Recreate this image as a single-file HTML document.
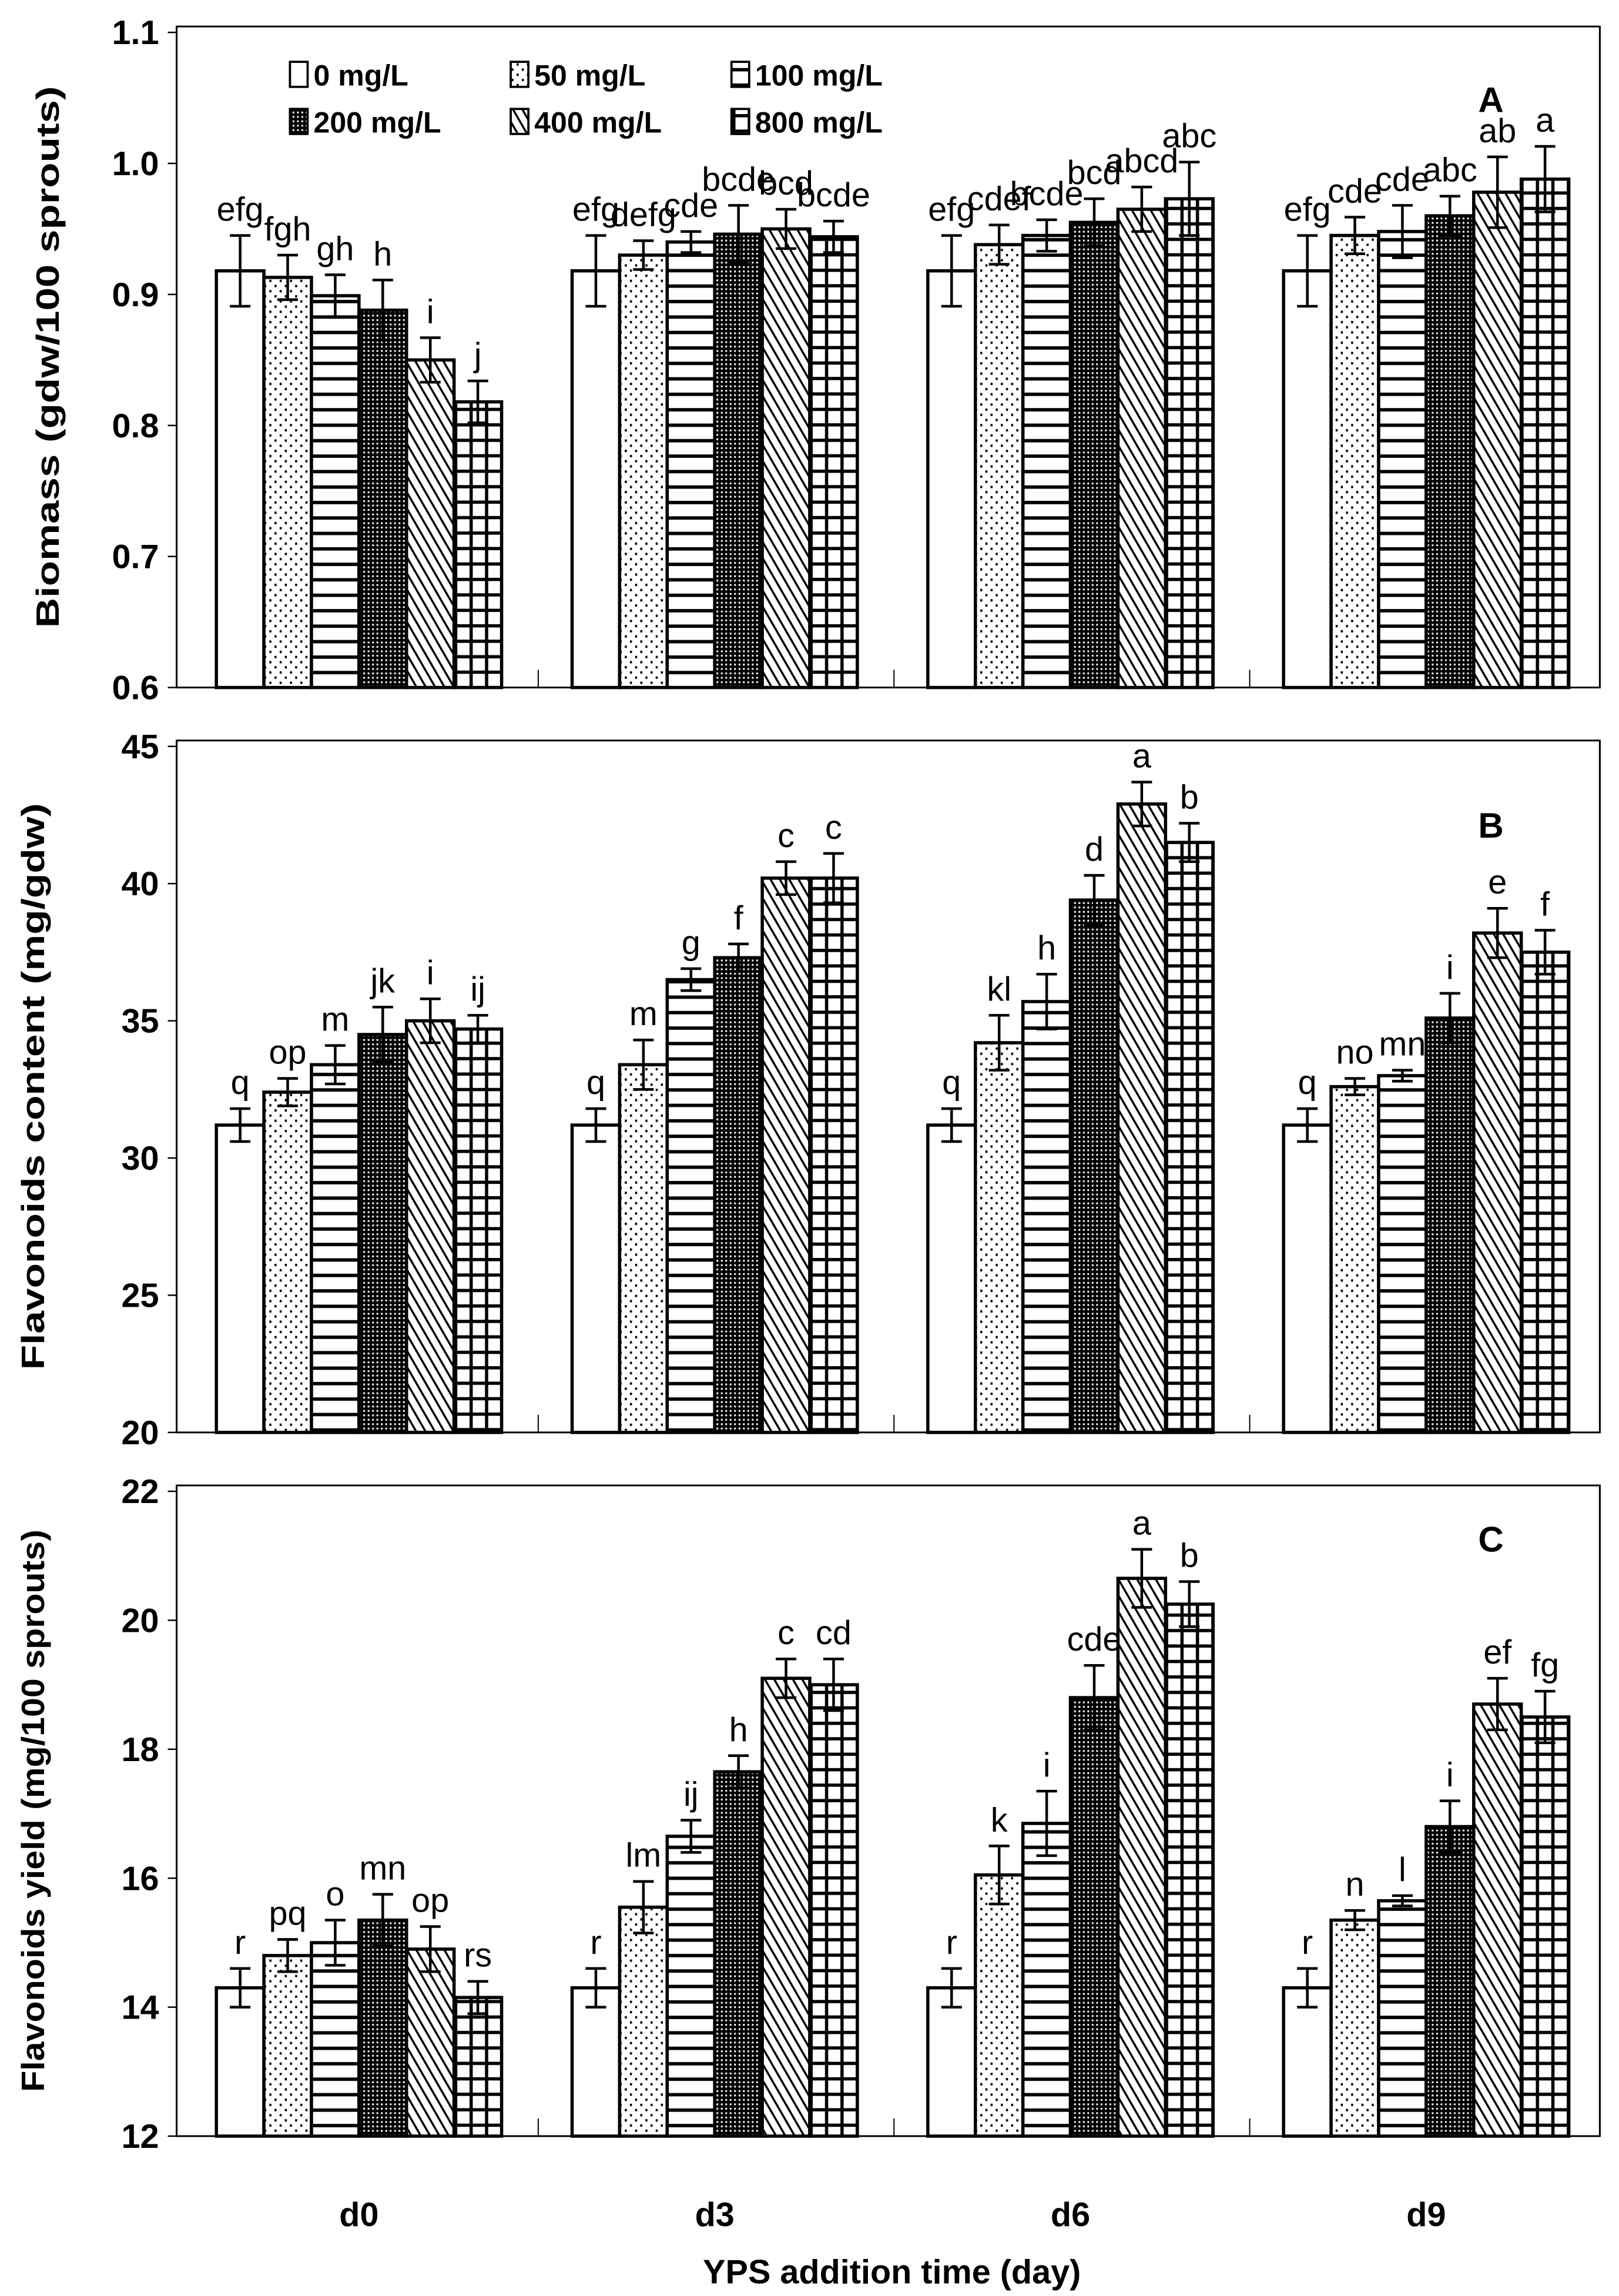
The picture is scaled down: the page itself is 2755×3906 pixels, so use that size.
<!DOCTYPE html>
<html><head><meta charset="utf-8">
<style>
html,body{margin:0;padding:0;background:#fff;}
svg{display:block;}
text{font-family:"Liberation Sans",Arial,sans-serif;fill:#000;}
</style></head>
<body>
<svg id="chart" width="2755" height="3906" viewBox="0 0 1100 1559.6" xmlns="http://www.w3.org/2000/svg">
<defs>
<pattern id="p0" patternUnits="userSpaceOnUse" width="10" height="10"><rect width="10" height="10" fill="#fff"/></pattern>
<pattern id="p1" patternUnits="userSpaceOnUse" width="7" height="7"><rect width="7" height="7" fill="#fff"/><rect x="1" y="1" width="1.4" height="1.6" fill="#000"/><rect x="4.5" y="4.5" width="1.4" height="1.6" fill="#000"/></pattern>
<pattern id="p2" patternUnits="userSpaceOnUse" width="10" height="10.5"><rect width="10" height="10.5" fill="#fff"/><rect y="4.2" width="10" height="2.3" fill="#000"/></pattern>
<pattern id="p3" patternUnits="userSpaceOnUse" width="3" height="3"><rect width="3" height="3" fill="#000"/><rect x="0.8" y="0.8" width="1.2" height="1.2" fill="#fff"/></pattern>
<pattern id="p4" patternUnits="userSpaceOnUse" width="5.5" height="5.5" patternTransform="rotate(-30)"><rect width="5.5" height="5.5" fill="#fff"/><rect x="0" y="0" width="1.4" height="5.5" fill="#000"/></pattern>
<pattern id="p5" patternUnits="userSpaceOnUse" width="10.5" height="10.5"><rect width="10.5" height="10.5" fill="#fff"/><rect x="4" width="2.2" height="10.5" fill="#000"/><rect y="4" width="10.5" height="2.2" fill="#000"/></pattern>
</defs>
<g id="root"></g>
</svg>
<script>
const groups = ["d0","d3","d6","d9"];
const seriesNames = ["0 mg/L","50 mg/L","100 mg/L","200 mg/L","400 mg/L","800 mg/L"];

const biomassVals = [[0.918,0.913,0.899,0.888,0.850,0.818],[0.918,0.930,0.940,0.946,0.950,0.944],[0.918,0.938,0.945,0.955,0.965,0.973],[0.918,0.945,0.948,0.960,0.978,0.988]];
const biomassErr = [[0.027,0.017,0.016,0.023,0.017,0.016],[0.027,0.011,0.008,0.022,0.015,0.012],[0.027,0.015,0.012,0.018,0.017,0.028],[0.027,0.014,0.020,0.015,0.027,0.025]];
const biomassLbl = [["efg","fgh","gh","h","i","j"],["efg","defg","cde","bcde","bcd","bcde"],["efg","cdef","bcde","bcd","abcd","abc"],["efg","cde","cde","abc","ab","a"]];
const biomassTicks = [0.6,0.7,0.8,0.9,1.0,1.1];
const biomassTickLbl = ["0.6","0.7","0.8","0.9","1.0","1.1"];

const contentVals = [[31.2,32.4,33.4,34.5,35.0,34.7],[31.2,33.4,36.5,37.3,40.2,40.2],[31.2,34.2,35.7,39.4,42.9,41.5],[31.2,32.6,33.0,35.1,38.2,37.5]];
const contentErr = [[0.6,0.5,0.7,1.0,0.8,0.5],[0.6,0.9,0.4,0.5,0.6,0.9],[0.6,1.0,1.0,0.9,0.8,0.7],[0.6,0.3,0.2,0.9,0.9,0.8]];
const contentLbl = [["q","op","m","jk","i","ij"],["q","m","g","f","c","c"],["q","kl","h","d","a","b"],["q","no","mn","i","e","f"]];
const contentTicks = [20,25,30,35,40,45];
const contentTickLbl = ["20","25","30","35","40","45"];

const yieldVals = [[14.3,14.8,15.0,15.35,14.9,14.15],[14.3,15.55,16.65,17.65,19.1,19.0],[14.3,16.05,16.85,18.8,20.65,20.25],[14.3,15.35,15.65,16.8,18.7,18.5]];
const yieldErr = [[0.3,0.25,0.35,0.4,0.35,0.25],[0.3,0.4,0.25,0.25,0.3,0.4],[0.3,0.45,0.5,0.5,0.45,0.35],[0.3,0.15,0.08,0.4,0.4,0.4]];
const yieldLbl = [["r","pq","o","mn","op","rs"],["r","lm","ij","h","c","cd"],["r","k","i","cde","a","b"],["r","n","l","i","ef","fg"]];
const yieldTicks = [12,14,16,18,20,22];
const yieldTickLbl = ["12","14","16","18","20","22"];

const NS="http://www.w3.org/2000/svg";
const root=document.getElementById('root');
function mk(tag,attrs,parent){const e=document.createElementNS(NS,tag);for(const k in attrs)e.setAttribute(k,attrs[k]);(parent||root).appendChild(e);return e;}

const left=120,right=1087,barW=32.3,g0=147,gStep=241.7;
function drawPanel(p){
  const g=mk('g',{});
  
  
  const y=v=>p.bottom-(v-p.min)/(p.max-p.min)*(p.bottom-p.top);
  const frame=mk('rect',{x:left,y:p.frameTop,width:right-left,height:p.bottom-p.frameTop,fill:'none',stroke:'#000','stroke-width':1.2},g);
  
  
  p.ticks.forEach((t,i)=>{
    mk('line',{x1:left-6,x2:left,y1:y(t),y2:y(t),stroke:'#000','stroke-width':1},g);
    const tl=mk('text',{x:left-12,y:y(t)+8,'font-size':23,'font-weight':'bold','text-anchor':'end'},g);
    tl.textContent=p.tickLbl[i];
    
    
  });
  for(let k=1;k<4;k++){const xx=g0+k*gStep-23;mk('line',{x1:xx,x2:xx,y1:p.bottom,y2:p.bottom-12,stroke:'#000','stroke-width':0.8},g);}
  const at=mk('text',{transform:`translate(${p.titleX},${(p.frameTop+p.bottom)/2}) rotate(-90)`,'font-size':22,'font-weight':'bold','text-anchor':'middle',textLength:p.titleLen,lengthAdjust:'spacingAndGlyphs'},g);
  at.textContent=p.title;
  
  
  const pl=mk('text',{x:1013,y:p.letterY,'font-size':24,'font-weight':'bold','text-anchor':'middle'},g);
  pl.textContent=p.letter;
  
  
  p.vals.forEach((row,gi)=>{
    row.forEach((v,si)=>{
      const x=g0+gi*gStep+si*barW;
      const b=mk('rect',{x:x,y:y(v),width:barW,height:p.bottom-y(v),fill:`url(#p${si})`,stroke:'#000','stroke-width':2.2},g);
      
      
      const cx=x+barW/2,e=p.err[gi][si];
      const eb=mk('path',{d:`M${cx} ${y(v+e)}V${y(v-e)}M${cx-7} ${y(v+e)}H${cx+7}M${cx-7} ${y(v-e)}H${cx+7}`,stroke:'#000','stroke-width':1.8,fill:'none'},g);
      
      
      const lt=mk('text',{x:cx,y:y(v+e)-10,'font-size':23,'text-anchor':'middle'},g);
      lt.textContent=p.lbl[gi][si];
      
      
    });
  });
}
drawPanel({name:'panel-a-biomass',frameTop:18,top:22,bottom:467,min:0.6,max:1.1,ticks:biomassTicks,tickLbl:biomassTickLbl,vals:biomassVals,err:biomassErr,lbl:biomassLbl,title:'Biomass (gdw/100 sprouts)',titleX:40,titleLen:368,letter:'A',letterY:76});
drawPanel({name:'panel-b-content',frameTop:503,top:507,bottom:973,min:20,max:45,ticks:contentTicks,tickLbl:contentTickLbl,vals:contentVals,err:contentErr,lbl:contentLbl,title:'Flavonoids content (mg/gdw)',titleX:30,titleLen:385,letter:'B',letterY:569});
drawPanel({name:'panel-c-yield',frameTop:1009,top:1013,bottom:1451,min:12,max:22,ticks:yieldTicks,tickLbl:yieldTickLbl,vals:yieldVals,err:yieldErr,lbl:yieldLbl,title:'Flavonoids yield (mg/100 sprouts)',titleX:30,titleLen:382,letter:'C',letterY:1054});

groups.forEach((d,i)=>{
  const t=mk('text',{x:g0+i*gStep+3*barW,y:1512,'font-size':23,'font-weight':'bold','text-anchor':'middle'});
  t.textContent=d;
  
  
});
const xt=mk('text',{x:606,y:1551,'font-size':23,'font-weight':'bold','text-anchor':'middle'});
xt.textContent='YPS addition time (day)';



seriesNames.forEach((n,i)=>{
  const col=i%3,row=Math.floor(i/3);
  const bx=197+col*150,by=42+row*32;
  const sw=mk('rect',{x:bx,y:by,width:12,height:17,fill:`url(#p${i})`,stroke:'#000','stroke-width':1.5});
  
  
  const lt=mk('text',{x:bx+16,y:by+16,'font-size':20,'font-weight':'bold'});
  lt.textContent=n;
  
  
});
</script>
</body></html>
